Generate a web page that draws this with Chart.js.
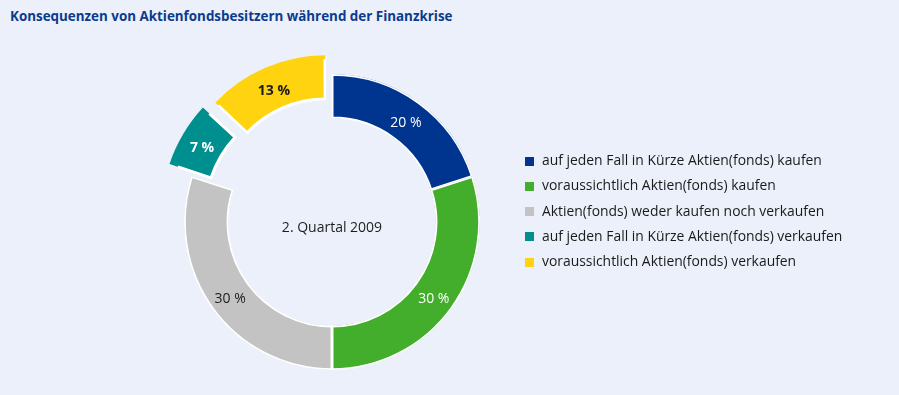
<!DOCTYPE html>
<html lang="de">
<head>
<meta charset="utf-8">
<script src="https://cdn.jsdelivr.net/npm/chart.js@4.4.0/dist/chart.umd.min.js"></script>
<style>
    html, body {
        margin: 0;
        padding: 0;
        background: #ebf0fa;
        font-family: "Open Sans", sans-serif;
    }
    #wrap {
        position: relative;
        width: 899px;
        height: 395px;
        overflow: hidden;
    }
    #title {
        position: absolute;
        left: 10px;
        top: 7px;
        font-size: 13.4px;
        font-weight: bold;
        color: #0b3b8d;
    }
    #chart {
        position: absolute;
        left: 0;
        top: 0;
    }
    #legend {
        position: absolute;
        left: 525px;
        top: 147px;
        margin: 0;
        padding: 0;
        list-style: none;
        font-size: 13.9px;
        color: #1a1a1a;
    }
    #legend li {
        height: 25.3px;
        line-height: 25.3px;
        white-space: nowrap;
    }
    #legend span {
        display: inline-block;
        width: 9px;
        height: 9px;
        margin-right: 8px;
        vertical-align: -0.5px;
    }
</style>
</head>
<body>
<div id="wrap">
    <div id="title">Konsequenzen von Aktienfondsbesitzern während der Finanzkrise</div>
    <canvas id="chart" width="899" height="395"></canvas>
    <ul id="legend"></ul>
</div>
<script>
const categories = [
    'auf jeden Fall in Kürze Aktien(fonds) kaufen',
    'voraussichtlich Aktien(fonds) kaufen',
    'Aktien(fonds) weder kaufen noch verkaufen',
    'auf jeden Fall in Kürze Aktien(fonds) verkaufen',
    'voraussichtlich Aktien(fonds) verkaufen',
];
const shares = [20, 30, 30, 7, 13];
const centerLabel = '2. Quartal 2009';

const colors = ['#00358f', '#43ae2b', '#c3c3c3', '#008f8f', '#ffd30f'];
const offsets = [0, 0, 0, 64, 64];
const labelColors = ['#ffffff', '#ffffff', '#222222', '#ffffff', '#1a1a1a'];
const labelWeights = ['normal', 'normal', 'normal', 'bold', 'bold'];

const legendElem = document.getElementById('legend');
categories.forEach(function (name, i) {
    let li = document.createElement('li');
    li.innerHTML = `<span style="background:${colors[i]}"></span>${name}`;
    legendElem.appendChild(li);
});

// same shift the arc element applies when it draws an offset slice
const arcShift = (arc) => {
    const off = (arc.options.offset || 0) / 4;
    const fix = 1 - Math.sin(Math.min(Math.PI, arc.circumference));
    return off + off * fix;
};

const sliceLabels = {
    id: 'sliceLabels',
    afterDatasetsDraw(chart) {
        const {ctx} = chart;
        const meta = chart.getDatasetMeta(0);

        ctx.save();
        ctx.textAlign = 'center';
        ctx.textBaseline = 'middle';
        meta.data.forEach(function (arc, i) {
            const mid = (arc.startAngle + arc.endAngle) / 2;
            const r = (arc.innerRadius + arc.outerRadius) / 2 + arcShift(arc);
            ctx.font = `${labelWeights[i]} 14px "Open Sans", sans-serif`;
            ctx.fillStyle = labelColors[i];
            ctx.fillText(`${shares[i]} %`, arc.x + Math.cos(mid) * r, arc.y + Math.sin(mid) * r + 3);
        });

        const first = meta.data[0];
        ctx.font = '14px "Open Sans", sans-serif';
        ctx.fillStyle = '#1e1e1e';
        ctx.fillText(centerLabel, first.x, first.y + 6);
        ctx.restore();
    },
};

const ctx = document.getElementById('chart').getContext('2d');

new Chart(ctx, {
    type: 'doughnut',
    data: {
        labels: categories,
        datasets: [
            {
                data: shares,
                backgroundColor: colors,
                borderColor: '#ffffff',
                borderWidth: 1.5,
                borderAlign: 'inner',
                offset: offsets,
                hoverOffset: 0,
            },
        ],
    },
    options: {
        responsive: false,
        animation: false,
        events: [],
        radius: 148,
        cutout: '70%',
        layout: {
            padding: {left: 0, right: 235, top: 49, bottom: 0},
        },
        plugins: {
            legend: {display: false},
            tooltip: {enabled: false},
        },
    },
    plugins: [sliceLabels],
});
</script>
</body>
</html>
